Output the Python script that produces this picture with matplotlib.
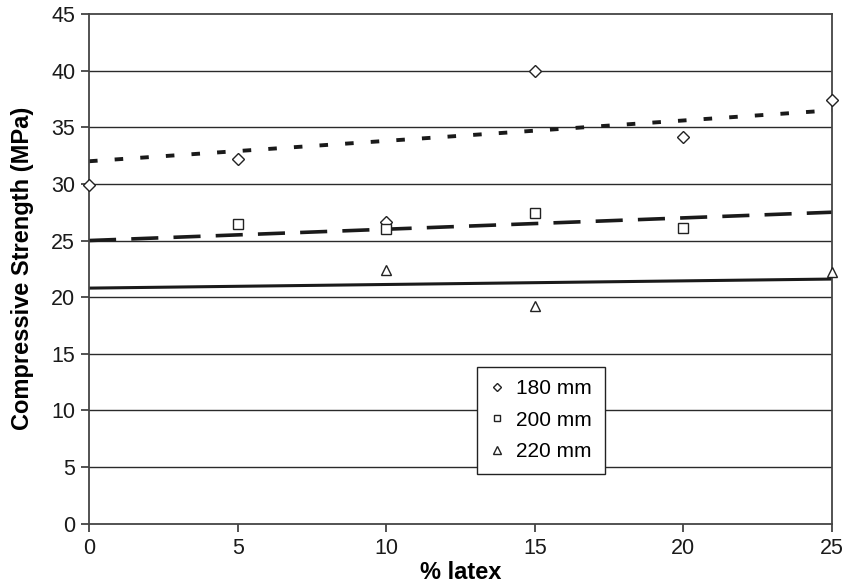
import numpy as np
import matplotlib
matplotlib.use("Agg")
import matplotlib.pyplot as plt

plt.rcParams['font.family'] = ['Liberation Sans', 'DejaVu Sans']

# data
latex = [0, 5, 10, 15, 20, 25]
s180 = [29.9, 32.2, 26.65, 40.0, 34.1, 37.45]
s200_x = [5, 10, 15, 20]
s200 = [26.45, 26.0, 27.4, 26.1]
s220_x = [10, 15, 25]
s220 = [22.4, 19.2, 22.25]

# trend lines (value at 0 % and at 25 %)
trend_x = [0, 25]
trend180 = [32.0, 36.5]
trend200 = [25.0, 27.5]
trend220 = [20.8, 21.6]

yticks = [0, 5, 10, 15, 20, 25, 30, 35, 40, 45]
xticks = [0, 5, 10, 15, 20, 25]

fig = plt.figure(figsize=(8.44, 5.86), dpi=100)
ax = fig.add_axes([0.1055, 0.1063, 0.8803, 0.8698])

for y in yticks[1:-1]:
    ax.axhline(y, color='#2a2a2a', lw=1.0, zorder=1)

ax.plot(trend_x, trend180, color='#1a1a1a', lw=2.8, dashes=(2.2, 4.4), zorder=2)
ax.plot(trend_x, trend200, color='#1a1a1a', lw=2.6, dashes=(7.5, 4.2), zorder=2)
ax.plot(trend_x, trend220, color='#1a1a1a', lw=2.2, zorder=2)

ax.plot(latex, s180, ls='none', marker='D', ms=6, mfc='white', mec='#222222',
        mew=1.0, label='180 mm', clip_on=False, zorder=3)
ax.plot(s200_x, s200, ls='none', marker='s', ms=6.5, mfc='white', mec='#222222',
        mew=1.0, label='200 mm', clip_on=False, zorder=3)
ax.plot(s220_x, s220, ls='none', marker='^', ms=7, mfc='white', mec='#222222',
        mew=1.0, label='220 mm', clip_on=False, zorder=3)

ax.set_xlim(0, 25)
ax.set_ylim(0, 45)
ax.set_xticks(xticks)
ax.set_yticks(yticks)
ax.tick_params(axis='both', labelsize=15.5, color='#333333', length=6, width=1.2,
               labelcolor='#1a1a1a', pad=4)
for s in ax.spines.values():
    s.set_color('#444444')
    s.set_linewidth(1.3)

ax.set_xlabel('% latex', fontsize=17, fontweight='bold', labelpad=2)
ax.set_ylabel('Compressive Strength (MPa)', fontsize=17, fontweight='bold', labelpad=12)

leg = ax.legend(loc='lower left', bbox_to_anchor=(0.522, 0.098), fontsize=15,
                markerscale=0.75, handlelength=0.7, handletextpad=0.6,
                labelspacing=0.6, borderpad=0.6, borderaxespad=0,
                fancybox=False, framealpha=1)
leg.get_frame().set_edgecolor('#222222')
leg.get_frame().set_linewidth(1.0)
leg.set_zorder(5)

fig.savefig('out.png', dpi=100)
